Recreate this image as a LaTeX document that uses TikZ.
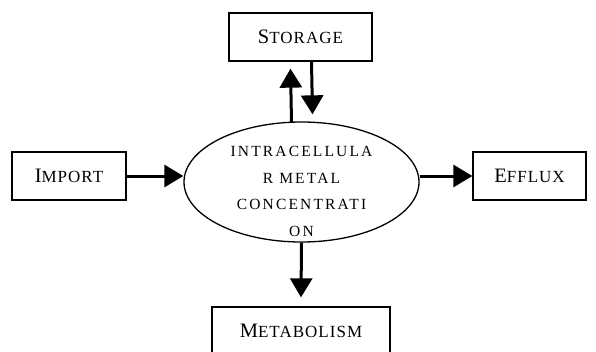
\documentclass[tikz,border=0pt]{standalone}
\usepackage{fontspec}
\setmainfont{Liberation Serif}
\newfontfamily\ellfont{Liberation Serif}[LetterSpace=14]
\newfontfamily\boxfont{Liberation Serif}[LetterSpace=6]
\newcommand{\smcap}[2]{{\fontsize{20.5pt}{24pt}\selectfont #1}{\fontsize{17pt}{20pt}\selectfont #2}}
\usetikzlibrary{arrows.meta,calc,shapes.geometric}
\tikzset{
  boxnode/.style={draw, line width=1.3pt, minimum height=48pt, inner sep=0pt, font=\boxfont},
  ellnode/.style={draw, ellipse, line width=1.3pt, minimum width=235pt, minimum height=120pt, inner sep=0pt},
  elltext/.style={inner sep=0pt, align=center, font=\ellfont\fontsize{15.5pt}{26.5pt}\selectfont},
  arr/.style={line width=3pt, -{Triangle[width=22pt,length=19pt]}}
}
\begin{document}
\begin{tikzpicture}[x=1pt,y=-1pt]
\useasboundingbox (0,0) rectangle (596,351);
\node[boxnode, minimum width=143pt] (sto) at (300.5,37) {\smcap{S}{TORAGE}};
\node[boxnode, minimum width=114pt] (imp) at (69,176) {\smcap{I}{MPORT}};
\node[boxnode, minimum width=113pt] (eff) at (529.5,176) {\smcap{E}{FFLUX}};
\node[boxnode, minimum width=178pt] (met) at (301,331) {\smcap{M}{ETABOLISM}};
\node[ellnode] (ell) at (301.5,182) {};
\node[elltext] (ellt) at (301.5,191.3) {INTRACELLULA\\R METAL\\CONCENTRATI\\ON};
\draw[arr] ([xshift=-10pt,yshift=-0.5pt]ell.north) -- ([xshift=-10pt,yshift=-7pt]sto.south);
\draw[arr] ([xshift=11pt]sto.south) -- ([xshift=11pt,yshift=7pt]ell.north);
\draw[arr] (imp.east) -- (imp.east -| ell.west);
\draw[arr] (ell.east |- eff.west) -- (eff.west);
\draw[arr] (ell.south) -- ([yshift=9pt]met.north);
\end{tikzpicture}
\end{document}
